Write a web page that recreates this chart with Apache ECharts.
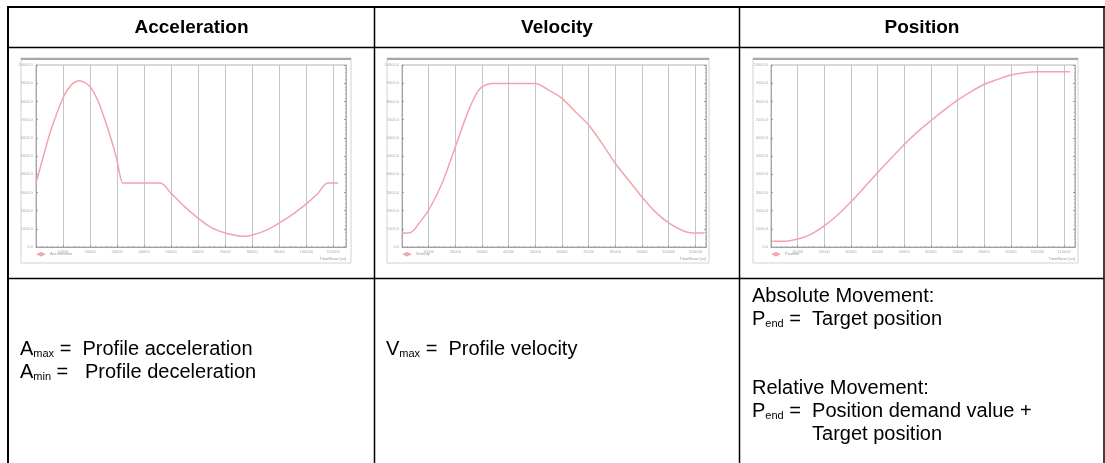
<!DOCTYPE html>
<html><head><meta charset="utf-8">
<script src="https://cdn.jsdelivr.net/npm/echarts@6/dist/echarts.min.js"></script>
<style>html,body{margin:0;padding:0;background:#fff}#c{width:1105px;height:463px}</style>
</head><body><div id="c"></div>
<script>
// ---- data ----
const headers = ['Acceleration', 'Velocity', 'Position'];
const seriesNames = ['Acceleration', 'Velocity', 'Position'];
const accX = [0, 2.5, 5.5, 10.1, 12.9, 16.0, 20.0, 22.8, 25.3, 27.7, 29.8, 32.1, 32.8, 46.0, 49.9, 54.9, 59.9, 64.7, 70.0, 74.6, 77.1, 80.1, 85.1, 90.1, 95.6, 100.1, 104.2, 107.9, 111.8];
const accY = [35.1, 48.6, 64.2, 82.3, 88.8, 91.4, 88.1, 80.8, 70.8, 59.8, 48.8, 35.1, 35.1, 35.1, 29.6, 22.3, 15.9, 10.8, 7.7, 6.2, 5.9, 6.6, 9.1, 13.2, 18.6, 23.8, 29.3, 35.1, 35.1];
const velX = [0, 2.5, 4.4, 6.25, 10, 15, 20, 25, 28.75, 31.25, 33.75, 50, 55, 60, 65, 70, 75, 80, 85, 90, 95, 100, 105, 108.75, 113.5];
const velY = [7.7, 7.7, 9.2, 12.8, 20.2, 34.9, 55.0, 75.2, 86.2, 89.0, 89.9, 89.9, 86.2, 81.7, 74.3, 67.0, 56.9, 45.9, 36.7, 27.5, 19.3, 13.2, 9.2, 7.7, 7.7];
const posX = [0.5, 4.75, 10.1, 14.75, 20.1, 25.1, 30.1, 35.1, 40.1, 45.1, 50.1, 55.1, 60.1, 65.1, 70.1, 75.1, 80.1, 85.1, 90.1, 95.1, 100.1, 112.25];
const posY = [3.1, 3.1, 4.4, 6.8, 11.7, 17.7, 25.0, 32.9, 41.0, 48.8, 56.5, 63.4, 69.5, 75.3, 80.8, 85.4, 89.4, 92.1, 94.5, 95.8, 96.3, 96.3];
const xMax = [114.7, 114, 114.1];
const xAxisTitle = 'Time/Base [us]';
const accText = [
  [{t: 'A'}, {t: 'max', sub: 1}, {t: ' =  Profile acceleration'}],
  [{t: 'A'}, {t: 'min', sub: 1}, {t: ' =   Profile deceleration'}]
];
const velText = [
  [{t: 'V'}, {t: 'max', sub: 1}, {t: ' =  Profile velocity'}]
];
const posText = [
  [{t: 'Absolute Movement:'}],
  [{t: 'P'}, {t: 'end', sub: 1}, {t: ' =  Target position'}],
  [{t: 'Relative Movement:'}],
  [{t: 'P'}, {t: 'end', sub: 1}, {t: ' =  '}, {t: 'Position demand value +', mark: 1}],
  [{t: 'Target position', alignMark: 1}]
];

// ---- layout ----
const FONT = '"Liberation Sans", Arial, Helvetica, sans-serif';
const MAIN = 20, SUB = 11;
const ctx = document.createElement('canvas').getContext('2d');
function tw(text, size, weight) { ctx.font = (weight || 'normal') + ' ' + size + 'px ' + FONT; return ctx.measureText(text).width; }

let markX = null;
function textLine(x, y, segs) {
  let cx = x; const els = [];
  segs.forEach(s => {
    if (s.alignMark && markX !== null) cx = markX;
    if (s.mark) markX = cx;
    const size = s.sub ? SUB : MAIN;
    els.push({type: 'text', x: cx, y: y + (s.sub ? 5 : 0), silent: true,
      style: {text: s.t, font: size + 'px ' + FONT, fill: '#000', align: 'left', verticalAlign: 'middle', textAlign: 'left', textVerticalAlign: 'middle'}});
    cx += tw(s.t, size);
  });
  return els;
}

const graphics = [];
// chart screenshot frames
const frames = [[21, 58, 330, 205], [387, 58, 322, 205], [753, 58, 325, 205]];
frames.forEach(f => {
  graphics.push({type: 'rect', shape: {x: f[0], y: f[1], width: f[2], height: f[3]}, z: -1, silent: true,
    style: {fill: '#fff', stroke: '#d2d2d2', lineWidth: 1}});
  graphics.push({type: 'line', shape: {x1: f[0], y1: f[1] + 1, x2: f[0] + f[2], y2: f[1] + 1}, z: -1, silent: true,
    style: {stroke: '#a8a8a8', lineWidth: 2}});
});
// table lines
const L = (x1, y1, x2, y2, w) => graphics.push({type: 'line', silent: true, shape: {x1, y1, x2, y2}, style: {stroke: '#000', lineWidth: w}});
L(7, 7, 1105, 7, 2);
L(8, 6, 8, 463, 2);
L(1104, 6, 1104, 463, 1.5);
L(8, 47.5, 1104, 47.5, 1.5);
L(8, 278.5, 1104, 278.5, 1.5);
L(374.5, 7, 374.5, 463, 1.5);
L(739.5, 7, 739.5, 463, 1.5);
// headers
const headCx = [191.5, 557, 922];
headers.forEach((h, i) => graphics.push({type: 'text', x: headCx[i], y: 27.5, silent: true,
  style: {text: h, font: 'bold 19px ' + FONT, fill: '#000', align: 'center', verticalAlign: 'middle', textAlign: 'center', textVerticalAlign: 'middle'}}));
// body text
accText.forEach((ln, i) => graphics.push(...textLine(20, 349 + i * 23, ln)));
velText.forEach((ln, i) => graphics.push(...textLine(386, 349 + i * 23, ln)));
const posY0 = [296, 319, 388, 411, 434];
posText.forEach((ln, i) => graphics.push(...textLine(752, posY0[i], ln)));

// ---- charts ----
const grids = [
  {left: 36, top: 65, width: 310, height: 182},
  {left: 402, top: 65, width: 304, height: 182},
  {left: 771, top: 65, width: 304, height: 182}
];
const lineCol = '#f2a4ad';
const tickStyle = {show: true, inside: true, length: 2, lineStyle: {color: '#9a9a9a'}};
const minorStyle = {show: true, splitNumber: 5, length: 1, lineStyle: {color: '#b0b0b0'}};
const xAxes = grids.map((g, i) => ({
  type: 'value', gridIndex: i, min: 0, max: xMax[i], interval: 10,
  axisLine: {show: true, onZero: false, lineStyle: {color: '#a0a0a0'}},
  axisTick: tickStyle, minorTick: minorStyle,
  splitLine: {show: true, lineStyle: {color: '#c4c4cc', width: 1}},
  axisLabel: {fontSize: 4, color: '#aaa', margin: 3, showMinLabel: false, showMaxLabel: false, formatter: v => (v * 1000).toFixed(0)},
  name: xAxisTitle, nameLocation: 'end', nameGap: 0,
  nameTextStyle: {fontSize: 4, color: '#999', align: 'right', verticalAlign: 'top', padding: [10, 0, 0, 0]}
}));
const yAxes = [];
grids.forEach((g, i) => {
  yAxes.push({type: 'value', gridIndex: i, min: 0, max: 100, interval: 10, position: 'left',
    axisLine: {show: true, lineStyle: {color: '#a0a0a0'}}, axisTick: tickStyle, minorTick: minorStyle,
    splitLine: {show: false},
    axisLabel: {fontSize: 4, color: '#aaa', margin: 3, formatter: v => (v * 100).toFixed(0) + '.0'}});
  yAxes.push({type: 'value', gridIndex: i, min: 0, max: 100, interval: 10, position: 'right',
    axisLine: {show: true, lineStyle: {color: '#b0b0b0'}}, axisTick: tickStyle, minorTick: minorStyle,
    splitLine: {show: false}, axisLabel: {show: false}});
});
const xs = [accX, velX, posX], ys = [accY, velY, posY];
const series = seriesNames.map((n, i) => ({
  name: n, type: 'line', xAxisIndex: i, yAxisIndex: i * 2,
  data: xs[i].map((x, k) => [x, ys[i][k]]),
  showSymbol: false, smooth: 0.3,
  itemStyle: {color: lineCol}, lineStyle: {color: lineCol, width: 1.5}
}));
const legends = grids.map((g, i) => ({
  data: [seriesNames[i]], left: g.left, top: 252, itemWidth: 8, itemHeight: 3, padding: 0,
  textStyle: {fontSize: 4, color: '#999'}
}));

const chart = echarts.init(document.getElementById('c'), null, {renderer: 'canvas'});
chart.setOption({
  animation: false,
  backgroundColor: '#fff',
  grid: grids.map(g => Object.assign({show: true, borderColor: '#b4b4b4', borderWidth: 1, backgroundColor: '#fff'}, g)),
  xAxis: xAxes, yAxis: yAxes, series, legend: legends,
  graphic: {elements: graphics}
});
</script></body></html>
